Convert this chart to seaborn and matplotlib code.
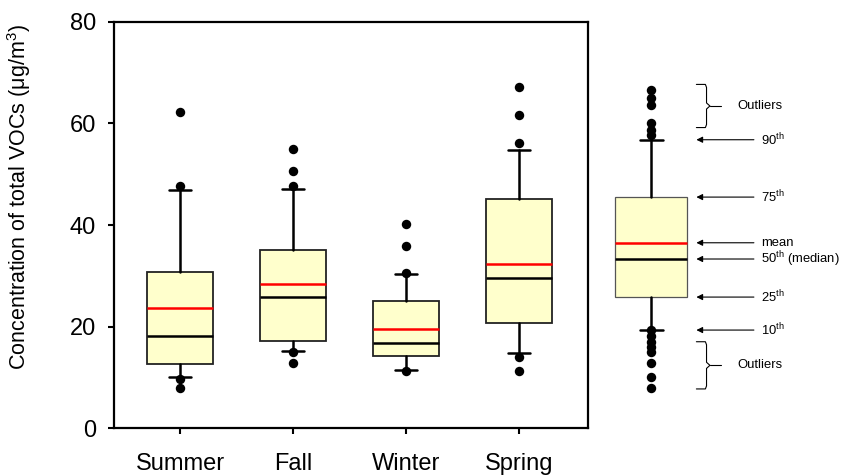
import pandas as pd
import numpy as np
import seaborn as sns
import matplotlib.pyplot as plt


# Data
seasons = ['Summer', 'Fall', 'Winter', 'Spring']
p10 = [10.0, 15.2, 11.5, 14.7]
q1 = [12.6, 17.1, 14.1, 20.6]
median = [18.1, 25.8, 16.8, 29.6]
mean = [23.7, 28.3, 19.6, 32.4]
q3 = [30.8, 35.0, 25.1, 45.1]
p90 = [46.8, 47.1, 30.4, 54.7]

summer_out = [62.2, 47.7, 9.6, 7.8]
fall_out = [55.0, 50.6, 47.6, 15.0, 12.8]
winter_out = [40.1, 35.8, 30.6, 11.3]
spring_out = [67.1, 61.7, 56.2, 13.9, 11.3]

# Key (legend) box
key_stats = [19.3, 25.8, 33.3, 36.5, 45.5, 56.8]  # p10, q1, median, mean, q3, p90
key_out = [66.6, 65.1, 63.6, 60.1, 58.8, 57.8,
           19.3, 18.2, 17.0, 15.9, 14.9, 12.9, 10.0, 7.8]
key_labels = ['90$^{\\mathrm{th}}$', '75$^{\\mathrm{th}}$', 'mean',
              '50$^{\\mathrm{th}}$ (median)', '25$^{\\mathrm{th}}$', '10$^{\\mathrm{th}}$']

#%%
sns.set_style('ticks')
plt.rcParams['font.family'] = ['Liberation Sans', 'DejaVu Sans']
plt.rcParams['mathtext.fontset'] = 'custom'
plt.rcParams['mathtext.rm'] = 'Liberation Sans'
plt.rcParams['mathtext.it'] = 'Liberation Sans:italic'
for k in ['text.color', 'axes.labelcolor', 'xtick.color', 'ytick.color', 'axes.edgecolor']:
    plt.rcParams[k] = 'black'

fig = plt.figure(figsize=(8.43, 4.76), dpi=100)
ax = fig.add_axes([0.1352, 0.1008, 0.5623, 0.853])
kax = fig.add_axes([0.707, 0.1008, 0.293, 0.853], sharey=ax)

fill = '#FFFFCC'
box_kw = dict(patch_artist=True, showmeans=True, meanline=True, manage_ticks=False,
              boxprops=dict(facecolor=fill, edgecolor='#222222', linewidth=1.3),
              whiskerprops=dict(color='black', linewidth=1.8),
              capprops=dict(color='black', linewidth=1.8),
              medianprops=dict(color='black', linewidth=1.8),
              meanprops=dict(color='red', linestyle='-', linewidth=1.8),
              showfliers=False)

out_df = pd.DataFrame({
    'season': (['Summer'] * len(summer_out) + ['Fall'] * len(fall_out)
               + ['Winter'] * len(winter_out) + ['Spring'] * len(spring_out)),
    'value': summer_out + fall_out + winter_out + spring_out})

sns.stripplot(data=out_df, x='season', y='value', order=seasons, jitter=False,
              color='black', size=6.8, linewidth=0, zorder=4, ax=ax)

stats = [dict(whislo=p10[i], q1=q1[i], med=median[i], mean=mean[i], q3=q3[i],
              whishi=p90[i], fliers=[]) for i in range(len(seasons))]
ax.bxp(stats, positions=range(len(seasons)), widths=0.59, capwidths=0.2, **box_kw)

ax.set_xlim(-0.584, 3.61)
ax.set_ylim(0, 80)
ax.set_yticks([0, 20, 40, 60, 80])
ax.set_xlabel('')
ax.set_ylabel('Concentration of total VOCs (\u03bcg/m$^3$)', fontsize=15.5)
ax.yaxis.set_label_coords(-0.171, 0.569)
ax.tick_params(axis='both', labelsize=17, width=1.5, length=4, color='black')
ax.tick_params(axis='y', pad=9)
ax.tick_params(axis='x', pad=14)
for s in ax.spines.values():
    s.set_visible(True)
    s.set_linewidth(1.6)
    s.set_color('black')

# Key box
key_df = pd.DataFrame({'key': ['k'] * len(key_out), 'value': key_out})
sns.stripplot(data=key_df, x='key', y='value', jitter=False, color='black',
              size=6.8, linewidth=0, zorder=4, ax=kax)
kstat = [dict(whislo=key_stats[0], q1=key_stats[1], med=key_stats[2], mean=key_stats[3],
              q3=key_stats[4], whishi=key_stats[5], fliers=[])]
kbox = dict(box_kw)
kbox['boxprops'] = dict(facecolor=fill, edgecolor='#555555', linewidth=0.9)
kax.bxp(kstat, positions=[0], widths=0.64, capwidths=0.2, **kbox)
kax.set_xlim(-0.49, 1.70)
kax.axis('off')

arrow_vals = [key_stats[5], key_stats[4], key_stats[3], key_stats[2], key_stats[1], key_stats[0]]
for v, lab in zip(arrow_vals, key_labels):
    kax.annotate('', xy=(0.40, v), xytext=(0.91, v),
                 arrowprops=dict(arrowstyle='-|>', color='black', lw=0.8,
                                 mutation_scale=9, shrinkA=0, shrinkB=0))
    kax.text(0.975, v, lab, fontsize=9.4, va='center', ha='left')

# Outlier braces
for top, bot in [(67.7, 59.2), (17.0, 7.7)]:
    midv = (top + bot) / 2
    kax.plot([0.40, 0.48, 0.49, 0.49, 0.52, 0.49, 0.49, 0.48, 0.40],
             [top, top, top - 0.6, midv + 0.6, midv, midv - 0.6, bot + 0.6, bot, bot],
             color='black', lw=0.8)
    kax.plot([0.52, 0.62], [midv, midv], color='black', lw=0.8)
    kax.text(0.76, midv, 'Outliers', fontsize=9.4, va='center', ha='left')

plt.savefig('out.png', dpi=100)
